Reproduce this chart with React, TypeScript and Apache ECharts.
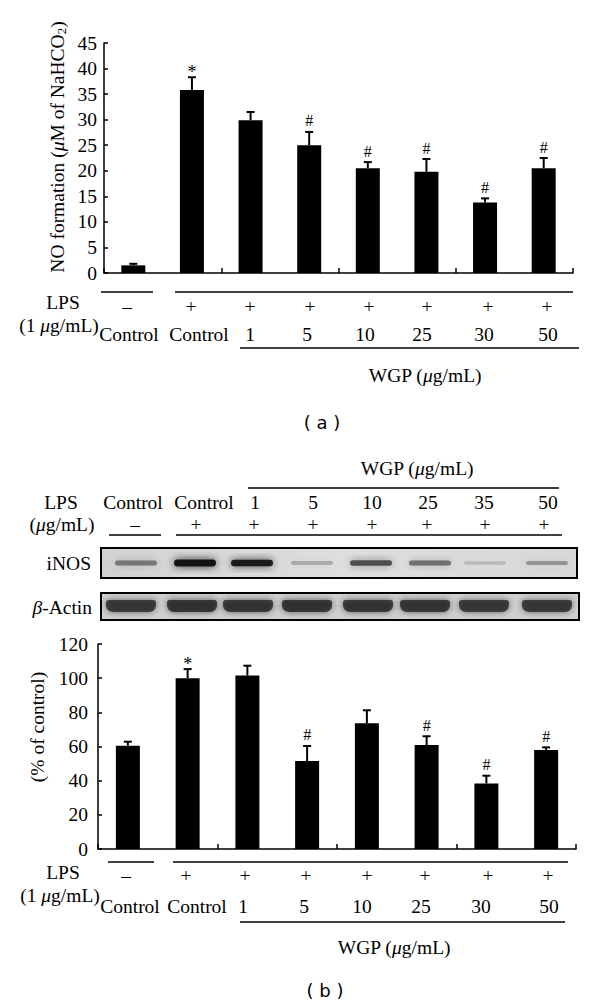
import React, { useEffect, useRef } from 'react';
import * as echarts from 'echarts';

// ---------- data ----------
const categories = ['Control (-)', 'Control (+)', '1', '5', '10', '25', '30', '50'];
const lpsSigns = ['–', '+', '+', '+', '+', '+', '+', '+'];
const doseLabels = ['Control', 'Control', '1', '5', '10', '25', '30', '50'];
const blotDoseLabels = ['Control', 'Control', '1', '5', '10', '25', '35', '50'];

// (a) NO formation (µM of NaHCO2)
const noValues = [1.5, 35.8, 29.9, 25.0, 20.5, 19.8, 13.8, 20.5];
const noErrors = [0.3, 2.5, 1.6, 2.6, 1.2, 2.5, 0.8, 2.0];
const noMarks = ['', '*', '', '#', '#', '#', '#', '#'];

// (b) iNOS (% of control)
const inosValues = [60.5, 100, 101.5, 51.5, 73.6, 60.9, 38.4, 58.0];
const inosErrors = [2.3, 5.3, 5.8, 8.8, 7.6, 5.1, 4.5, 1.5];
const inosMarks = ['', '*', '', '#', '', '#', '#', '#'];

// western blot band intensities (0..1)
const inosBands = [0.45, 0.95, 0.9, 0.22, 0.65, 0.5, 0.15, 0.3];
const actinBands = [0.82, 0.86, 0.84, 0.86, 0.84, 0.84, 0.82, 0.82];

// ---------- layout ----------
const SERIF = "'Liberation Serif', 'Times New Roman', serif";
const SANS = "'DejaVu Sans', 'Liberation Sans', sans-serif";
const FS = 19.5;

const aSignX = [127, 191, 250, 310, 369, 427, 488, 547];
const aDoseX = [129, 199, 250, 307, 365, 422, 484, 548];
const bSignX = [126, 186, 245, 306, 367, 425, 488, 548];
const bDoseX = [130, 197, 243, 304, 362, 421, 481, 549];
const hDoseX = [133, 204, 255, 313, 372, 428, 484, 548];
const hSignX = [135, 196, 254, 313, 372, 427, 485, 544];
const inosBandX = [136, 195, 252, 312, 371, 430, 485, 547];
const actinBandX = [131, 192, 248, 307, 368, 425, 484, 547];

const rich = {
  n: { fontFamily: SERIF, fontSize: FS, fill: '#000' },
  it: { fontFamily: SERIF, fontSize: FS, fontStyle: 'italic', fill: '#000' },
  sub: { fontFamily: SERIF, fontSize: 13, fill: '#000', padding: [9, 0, 0, 0] },
};

function txt(x: number, y: number, text: string, extra: any = {}) {
  return {
    type: 'text',
    x,
    y,
    silent: true,
    style: {
      text,
      fontFamily: SERIF,
      fontSize: FS,
      fill: '#000',
      align: 'center',
      verticalAlign: 'middle',
      ...extra,
    },
  };
}
function richTxt(x: number, y: number, text: string, extra: any = {}) {
  return txt(x, y, text, { rich, ...extra });
}
function hline(x1: number, x2: number, y: number) {
  return {
    type: 'line',
    silent: true,
    shape: { x1, y1: y, x2, y2: y },
    style: { stroke: '#000', lineWidth: 1.5 },
  };
}

function errRender(marks: string[]) {
  return (params: any, api: any) => {
    const i = api.value(0);
    const v = api.value(1);
    const e = api.value(2);
    const base = api.coord([i, v]);
    const top = api.coord([i, v + e]);
    const x = base[0];
    const children: any[] = [
      { type: 'line', shape: { x1: x, y1: base[1], x2: x, y2: top[1] }, style: { stroke: '#000', lineWidth: 2 } },
      { type: 'line', shape: { x1: x - 4, y1: top[1], x2: x + 4, y2: top[1] }, style: { stroke: '#000', lineWidth: 2 } },
    ];
    const m = marks[params.dataIndex];
    if (m) {
      children.push({
        type: 'text',
        x,
        y: top[1] - (m === '*' ? 5 : 11),
        style: {
          text: m,
          fontFamily: SERIF,
          fontSize: m === '*' ? 18 : 16,
          fill: '#000',
          align: 'center',
          verticalAlign: 'middle',
        },
      });
    }
    return { type: 'group', children };
  };
}

function xAxisCfg(gridIndex: number) {
  return {
    type: 'category',
    gridIndex,
    data: categories,
    boundaryGap: true,
    axisLine: { show: true, lineStyle: { color: '#000', width: 1.5 } },
    axisTick: { show: true, inside: true, length: 5, lineStyle: { color: '#000', width: 1.5 } },
    axisLabel: { show: false },
    splitLine: { show: false },
  };
}
function yAxisCfg(gridIndex: number, max: number, interval: number, margin: number) {
  return {
    type: 'value',
    gridIndex,
    min: 0,
    max,
    interval,
    axisLine: { show: true, lineStyle: { color: '#000', width: 1.5 } },
    axisTick: { show: true, inside: true, length: 4, lineStyle: { color: '#000', width: 1.5 } },
    axisLabel: { color: '#000', fontFamily: SERIF, fontSize: FS, margin },
    splitLine: { show: false },
  };
}

function buildGraphics() {
  const g: any[] = [];
  // ----- (a) y-axis name -----
  const ya: any = richTxt(57, 147, '{n|NO formation (}{it|μ}{n|M of NaHCO}{sub|2}{n|)}');
  ya.rotation = Math.PI / 2;
  g.push(ya);

  // ----- (a) lower annotations -----
  g.push(hline(101, 153, 292), hline(175, 573, 292));
  g.push(txt(63, 302, 'LPS'));
  lpsSigns.forEach((s, i) => g.push(txt(aSignX[i], 306, s)));
  g.push(richTxt(59, 325, '{n|(1 }{it|μ}{n|g/mL)}'));
  doseLabels.forEach((s, i) => g.push(txt(aDoseX[i], 334, s)));
  g.push(hline(240, 579, 348));
  g.push(richTxt(425, 375, '{n|WGP (}{it|μ}{n|g/mL)}'));
  g.push(txt(322, 422, '( a )', { fontFamily: SANS, fontSize: 18 }));

  // ----- (b) header -----
  g.push(richTxt(417, 468, '{n|WGP (}{it|μ}{n|g/mL)}'));
  g.push(hline(248, 559, 488));
  g.push(txt(61, 502, 'LPS'));
  blotDoseLabels.forEach((s, i) => g.push(txt(hDoseX[i], 502, s)));
  g.push(richTxt(62, 524, '{n|(}{it|μ}{n|g/mL)}'));
  lpsSigns.forEach((s, i) => g.push(txt(hSignX[i], 524, s)));
  g.push(hline(109, 161, 535), hline(176, 562, 535));

  // ----- blots -----
  g.push(txt(91, 563, 'iNOS', { align: 'right' }));
  g.push(richTxt(92, 607, '{it|β}{n|-Actin}', { align: 'right' }));
  g.push({
    type: 'rect',
    silent: true,
    shape: { x: 101, y: 548, width: 476, height: 30 },
    style: {
      fill: new echarts.graphic.LinearGradient(0, 0, 1, 0, [
        { offset: 0, color: '#d2d2d2' },
        { offset: 0.5, color: '#dedede' },
        { offset: 1, color: '#d8d8d8' },
      ]),
      stroke: '#000',
      lineWidth: 2,
    },
  });
  inosBands.forEach((a, i) => {
    const w = 42;
    const h = 3 + 4 * a;
    g.push({
      type: 'rect',
      silent: true,
      shape: { x: inosBandX[i] - w / 2, y: 563 - h / 2, width: w, height: h, r: h / 2 },
      style: {
        fill: `rgba(15,15,15,${a})`,
        shadowBlur: 8,
        shadowColor: `rgba(15,15,15,${a * 0.9})`,
      },
    });
  });
  g.push({
    type: 'rect',
    silent: true,
    shape: { x: 101, y: 593, width: 478, height: 27 },
    style: { fill: '#d0d0d0', stroke: '#000', lineWidth: 2 },
  });
  actinBands.forEach((a, i) => {
    const w = 50;
    const h = 12;
    g.push({
      type: 'rect',
      silent: true,
      shape: { x: actinBandX[i] - w / 2, y: 606 - h / 2, width: w, height: h, r: [3, 3, 7, 7] },
      style: {
        fill: `rgba(40,40,40,${a})`,
        shadowBlur: 6,
        shadowColor: `rgba(40,40,40,${a})`,
      },
    });
  });

  // ----- (b) y-axis name -----
  const yn: any = richTxt(37, 727, '{n|(% of control)}');
  yn.rotation = Math.PI / 2;
  g.push(yn);

  // ----- (b) lower annotations -----
  g.push(hline(108, 154, 862), hline(173, 568, 862));
  g.push(txt(63, 872, 'LPS'));
  lpsSigns.forEach((s, i) => g.push(txt(bSignX[i], 875, s)));
  g.push(richTxt(60, 895, '{n|(1 }{it|μ}{n|g/mL)}'));
  doseLabels.forEach((s, i) => g.push(txt(bDoseX[i], 906, s)));
  g.push(hline(240, 565, 922));
  g.push(richTxt(394, 947, '{n|WGP (}{it|μ}{n|g/mL)}'));
  g.push(txt(325, 990, '( b )', { fontFamily: SANS, fontSize: 18 }));
  return g;
}

export default function App() {
  const ref = useRef<HTMLDivElement>(null);
  useEffect(() => {
    if (!ref.current) return;
    const chart = echarts.init(ref.current, undefined, { renderer: 'svg' });
    const option: any = {
      animation: false,
      backgroundColor: '#ffffff',
      grid: [
        { left: 104, top: 43, width: 469, height: 230 },
        { left: 98, top: 644, width: 478, height: 205 },
      ],
      xAxis: [xAxisCfg(0), xAxisCfg(1)],
      yAxis: [yAxisCfg(0, 45, 5, 7), yAxisCfg(1, 120, 20, 10)],
      series: [
        {
          type: 'bar',
          xAxisIndex: 0,
          yAxisIndex: 0,
          data: noValues,
          barWidth: 24,
          itemStyle: { color: '#000' },
        },
        {
          type: 'custom',
          xAxisIndex: 0,
          yAxisIndex: 0,
          z: 5,
          data: noValues.map((v, i) => [i, v, noErrors[i]]),
          renderItem: errRender(noMarks),
        },
        {
          type: 'bar',
          xAxisIndex: 1,
          yAxisIndex: 1,
          data: inosValues,
          barWidth: 24,
          itemStyle: { color: '#000' },
        },
        {
          type: 'custom',
          xAxisIndex: 1,
          yAxisIndex: 1,
          z: 5,
          data: inosValues.map((v, i) => [i, v, inosErrors[i]]),
          renderItem: errRender(inosMarks),
        },
      ],
      graphic: buildGraphics(),
    };
    chart.setOption(option);
    return () => chart.dispose();
  }, []);
  return (
    <div
      ref={ref}
      style={{ position: 'absolute', left: 0, top: 0, width: 600, height: 1007, background: '#fff' }}
    />
  );
}
